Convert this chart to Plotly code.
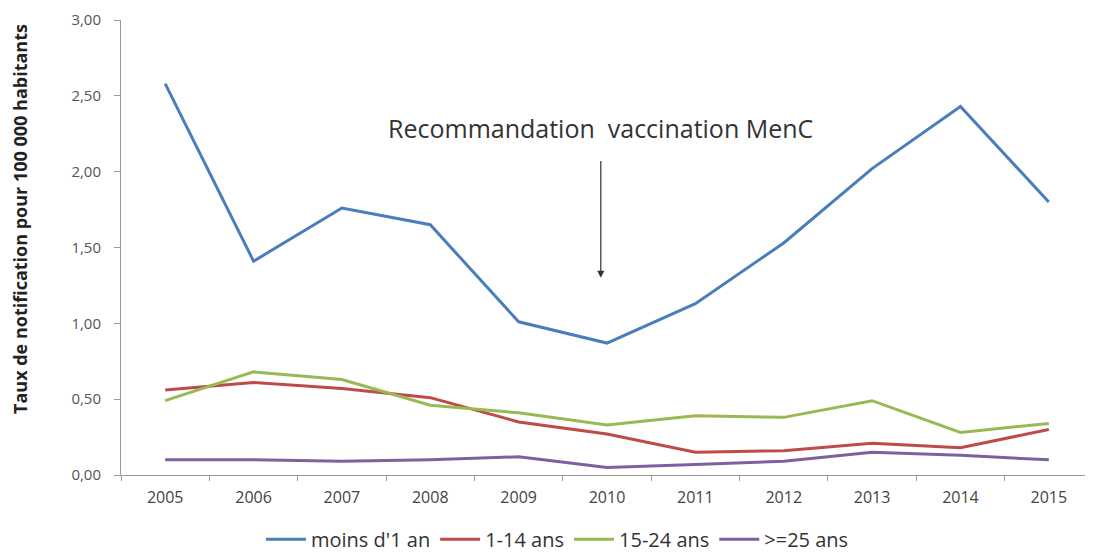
import plotly.graph_objects as go

years = ["2005", "2006", "2007", "2008", "2009", "2010", "2011", "2012", "2013", "2014", "2015"]
moins_1_an = [2.58, 1.41, 1.76, 1.65, 1.01, 0.87, 1.13, 1.53, 2.02, 2.43, 1.80]
ans_1_14 = [0.56, 0.61, 0.57, 0.51, 0.35, 0.27, 0.15, 0.16, 0.21, 0.18, 0.30]
ans_15_24 = [0.49, 0.68, 0.63, 0.46, 0.41, 0.33, 0.39, 0.38, 0.49, 0.28, 0.34]
ans_25_plus = [0.10, 0.10, 0.09, 0.10, 0.12, 0.05, 0.07, 0.09, 0.15, 0.13, 0.10]

series = [
    ("moins d'1 an", moins_1_an, "#4a7ebb"),
    ("1-14 ans", ans_1_14, "#be4b48"),
    ("15-24 ans", ans_15_24, "#98b954"),
    (">=25 ans", ans_25_plus, "#7d60a0"),
]

# page body has an 8px margin: figure is sized/offset to compensate
W, H = 1085, 546
L, T, B = 113, 12, 79
PW, PH = 972, 455

fig = go.Figure()
for name, vals, col in series:
    fig.add_trace(go.Scatter(x=years, y=vals, mode="lines", name=name,
                             line=dict(color=col, width=3)))

fig.add_annotation(x=4.93, y=1.30, ax=4.93, ay=2.08, xref="x", yref="y",
                   axref="x", ayref="y", text="", showarrow=True,
                   arrowhead=2, arrowsize=1.2, arrowwidth=1.2, arrowcolor="#333")
fig.add_annotation(x=4.93, y=2.29, xref="x", yref="y", text="Recommandation&nbsp; vaccination MenC",
                   showarrow=False, font=dict(family="Open Sans", size=25, color="#333"))
fig.add_annotation(x=(12 - L) / PW, y=(T + PH - 211) / PH, xref="paper", yref="paper",
                   xanchor="center", yanchor="middle",
                   text="<b>Taux de notification pour 100 000 habitants</b>",
                   showarrow=False, textangle=-90, font=dict(family="Open Sans", size=18, color="#222"))

fig.update_layout(
    width=W, height=H,
    margin=dict(l=L, r=0, t=T, b=B, autoexpand=False),
    paper_bgcolor="white", plot_bgcolor="white",
    separators=", ",
    font=dict(family="Open Sans", color="#555"),
    showlegend=True,
    legend=dict(orientation="h", x=0.449, xanchor="center", y=-0.141, yanchor="middle",
                font=dict(size=20, color="#333"), itemwidth=40, tracegroupgap=0),
    xaxis=dict(type="category", range=[-0.5, 10.5], tickson="boundaries", automargin=False,
               showline=True, linecolor="#999", linewidth=1, ticks="outside",
               tickcolor="#999", ticklen=5, showgrid=False, zeroline=False,
               ticklabelstandoff=8,
               tickfont=dict(size=16, color="#444")),
    yaxis=dict(range=[0, 3.0], dtick=0.5, tickformat=".2f", showline=True, automargin=False,
               linecolor="#999", linewidth=1, ticks="outside", tickcolor="#999",
               ticklen=6, showgrid=False, zeroline=False, ticklabelstandoff=10,
               tickfont=dict(size=15, color="#555")),
)

fig.write_html("out.html")
